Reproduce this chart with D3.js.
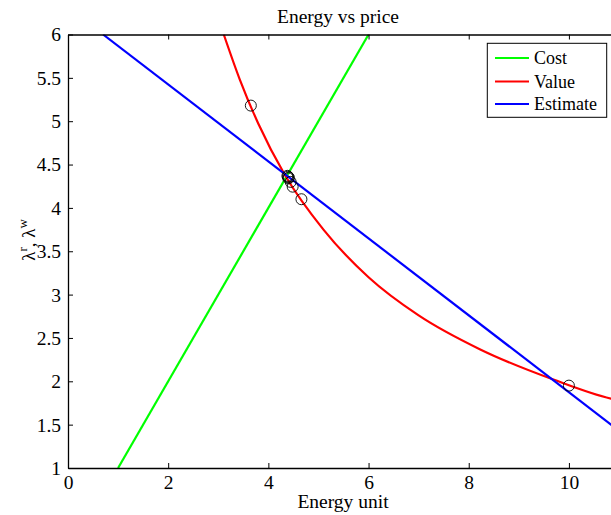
<!DOCTYPE html>
<html>
<head>
<meta charset="utf-8">
<script src="https://cdn.jsdelivr.net/npm/d3@7"></script>
<style>
  html, body { margin: 0; padding: 0; background: #fff; }
  svg { display: block; }
  text { font-family: "Liberation Serif", "Times New Roman", serif; fill: #000; }
</style>
</head>
<body>
<svg id="chart" width="611" height="515"></svg>
<script>
// Cost curve (straight line)
const costX = [1, 6];
const costY = [1, 6];

// Value curve, sampled along its length
const valueX = [3.11, 3.43, 3.8, 4.33, 5.1, 6.0, 7.0, 8.22, 9.69, 10.84, 11.0];
const valueY = [6.0, 5.48, 4.97, 4.38, 3.75, 3.2, 2.76, 2.37, 2.02, 1.80, 1.78];

// Estimate line
const estimateX = [0.7, 11.0];
const estimateY = [6.0, 1.43];

// Iterates marked with circles
const iterX = [3.65, 10.0, 4.66, 4.485, 4.445, 4.40, 4.38, 4.39, 4.41];
const iterY = [5.18, 1.95, 4.10, 4.245, 4.30, 4.34, 4.37, 4.36, 4.35];

const xTicks = [0, 2, 4, 6, 8, 10];
const yTicks = [1, 1.5, 2, 2.5, 3, 3.5, 4, 4.5, 5, 5.5, 6];

const seriesNames = ["Cost", "Value", "Estimate"];
const seriesColors = ["#00ff00", "#ff0000", "#0000ff"];

const svg = d3.select("#chart");
const plotL = 68, plotR = 614, plotT = 34.5, plotB = 468;

const x = d3.scaleLinear().domain([0, 10.9]).range([plotL, plotR]);
const y = d3.scaleLinear().domain([1, 6]).range([plotB, plotT]);

svg.append("defs").append("clipPath").attr("id", "plotclip")
  .append("rect").attr("x", plotL).attr("y", plotT)
  .attr("width", plotR - plotL).attr("height", plotB - plotT);

const plot = svg.append("g").attr("clip-path", "url(#plotclip)");

const zip = (xs, ys) => xs.map((v, i) => [v, ys[i]]);

const straight = d3.line().x(d => x(d[0])).y(d => y(d[1]));
const smooth = d3.line().x(d => x(d[0])).y(d => y(d[1])).curve(d3.curveMonotoneX);

plot.append("path").datum(zip(costX, costY))
  .attr("d", straight).attr("fill", "none")
  .attr("stroke", seriesColors[0]).attr("stroke-width", 2.2);
plot.append("path").datum(zip(valueX, valueY))
  .attr("d", smooth).attr("fill", "none")
  .attr("stroke", seriesColors[1]).attr("stroke-width", 2.2);
plot.append("path").datum(zip(estimateX, estimateY))
  .attr("d", straight).attr("fill", "none")
  .attr("stroke", seriesColors[2]).attr("stroke-width", 2.2);

plot.selectAll("circle.iter").data(zip(iterX, iterY)).enter()
  .append("circle").attr("class", "iter")
  .attr("cx", d => x(d[0])).attr("cy", d => y(d[1])).attr("r", 5.5)
  .attr("fill", "none").attr("stroke", "#000").attr("stroke-width", 0.9);

// Axes: ticks point inward, labels outside
const bottomAxis = d3.axisBottom(x).tickValues(xTicks).tickFormat(d3.format("d"))
  .tickSizeInner(-5).tickSizeOuter(0).tickPadding(9);
const gx = svg.append("g").attr("transform", `translate(0,${plotB})`).call(bottomAxis);

const topAxis = d3.axisTop(x).tickValues(xTicks).tickFormat("")
  .tickSizeInner(-5).tickSizeOuter(0);
const gt = svg.append("g").attr("transform", `translate(0,${plotT})`).call(topAxis);

const leftAxis = d3.axisLeft(y).tickValues(yTicks).tickFormat(d3.format("~g"))
  .tickSizeInner(-5).tickSizeOuter(0).tickPadding(7);
const gy = svg.append("g").attr("transform", `translate(${plotL},0)`).call(leftAxis);

[gx, gt, gy].forEach(g => {
  g.select(".domain").attr("stroke", "#000").attr("stroke-width", 1.3);
  g.selectAll(".tick line").attr("stroke", "#000").attr("stroke-width", 1);
  g.selectAll(".tick text").style("font-family", "'Liberation Serif', serif")
    .style("font-size", "19.5px").attr("fill", "#000");
});
gx.selectAll(".tick text").attr("dy", "0.6em");
gy.selectAll(".tick text").attr("dy", "0.33em");

// Title and axis labels
svg.append("text").attr("x", 338).attr("y", 23).attr("text-anchor", "middle")
  .style("font-size", "19.5px").text("Energy vs price");

svg.append("text").attr("x", 343).attr("y", 508).attr("text-anchor", "middle")
  .style("font-size", "19.5px").text("Energy unit");

const yl = svg.append("text").attr("transform", "translate(35,240) rotate(-90)")
  .attr("text-anchor", "middle").style("font-size", "19px");
yl.append("tspan").text("λ");
yl.append("tspan").attr("dy", -8).style("font-size", "13px").text("r");
yl.append("tspan").attr("dy", 8).text(", λ");
yl.append("tspan").attr("dy", -8).style("font-size", "13px").text("w");

// Legend
const lg = svg.append("g");
lg.append("rect").attr("x", 487.3).attr("y", 43.3).attr("width", 119.4).attr("height", 74)
  .attr("fill", "#fff").attr("stroke", "#000").attr("stroke-width", 1);
const rowY = [58, 81.5, 104];
seriesNames.forEach((name, i) => {
  lg.append("line").attr("x1", 495).attr("x2", 529)
    .attr("y1", rowY[i]).attr("y2", rowY[i])
    .attr("stroke", seriesColors[i]).attr("stroke-width", 2.2);
  lg.append("text").attr("x", 534).attr("y", rowY[i]).attr("dy", "0.35em")
    .style("font-size", "18px").text(name);
});
</script>
</body>
</html>
